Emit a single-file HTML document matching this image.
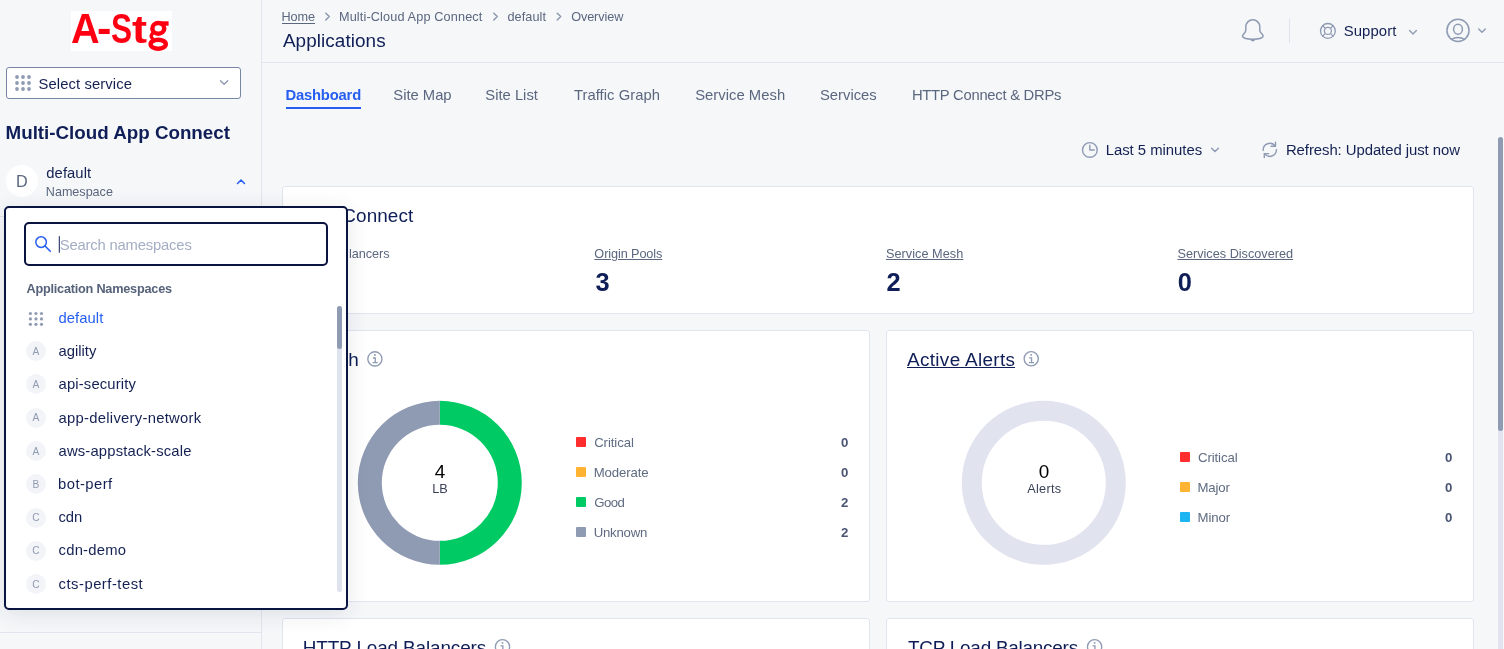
<!DOCTYPE html>
<html lang="en">
<head>
<meta charset="utf-8">
<title>Applications - Multi-Cloud App Connect</title>
<style>
*{box-sizing:border-box;margin:0;padding:0}
html,body{width:1504px;height:649px;overflow:hidden;background:#f5f7f9}
body{position:relative;font-family:"Liberation Sans",sans-serif;color:#0f1e57}
.a{position:absolute}
.t{position:absolute;white-space:pre;display:block}
.tl{position:absolute;left:0;top:0;width:1504px;height:649px;will-change:transform;pointer-events:none}
.card{position:absolute;background:#fff;border:1px solid #e1e5f0;border-radius:3px}
.ln{position:absolute;background:#e1e5f0}
.ul{position:absolute;height:1px}
.lg{font-size:41.7px;line-height:41.7px;font-weight:700;color:#ff0013;transform-origin:0 0}
.sq{position:absolute;width:10px;height:10px;border-radius:1px}
.av{position:absolute;left:26px;width:20px;height:20px;border-radius:50%;background:#f3f4f7;z-index:25}
svg{position:absolute;overflow:visible}
.ic{fill:none;stroke:#8f9bb3;stroke-width:1.4;stroke-linecap:round;stroke-linejoin:round}
</style>
</head>
<body>

<!-- ============ structural lines ============ -->
<div class="ln" style="left:261px;top:0;width:1px;height:649px"></div>
<div class="ln" style="left:262px;top:62px;width:1242px;height:1px"></div>
<div class="ln" style="left:0;top:632px;width:261px;height:1px"></div>
<div class="ln" style="left:0;top:216px;width:261px;height:1px"></div>

<!-- ============ sidebar ============ -->
<div class="a" id="logo" style="left:70.5px;top:11px;width:101.5px;height:40px;background:#fff"></div>

<svg style="left:140px;top:11px" width="32" height="40" viewBox="140 11 32 40">
  <!-- double-storey g of the logo -->
  <g fill="none" stroke="#ff0013">
    <ellipse cx="158.3" cy="28.4" rx="5.95" ry="5.3" stroke-width="4.5"/>
    <ellipse cx="158.2" cy="44.2" rx="7.6" ry="4.5" stroke-width="4.4"/>
    <path d="M153.3 32.6 C150.6 34.6 150.4 37.2 153.2 39.4" stroke-width="3.6"/>
  </g>
  <rect x="160.5" y="21.3" width="8.1" height="4.4" fill="#ff0013"/>
</svg>
<div class="a" style="left:6px;top:67px;width:235px;height:32px;background:#fff;border:1px solid #7886a6;border-radius:3px"></div>
<svg style="left:0;top:0" width="262" height="210" viewBox="0 0 262 210">
  <g fill="#8f9bb3">
    <circle cx="17" cy="77" r="1.9"/><circle cx="23" cy="77" r="1.9"/><circle cx="29" cy="77" r="1.9"/>
    <circle cx="17" cy="83" r="1.9"/><circle cx="23" cy="83" r="1.9"/><circle cx="29" cy="83" r="1.9"/>
    <circle cx="17" cy="89" r="1.9"/><circle cx="23" cy="89" r="1.9"/><circle cx="29" cy="89" r="1.9"/>
  </g>
  <path class="ic" d="M220.5 80.7 L224.1 84.3 L227.7 80.7"/>
  <circle cx="22" cy="181" r="16" fill="#fff"/>
  <path d="M237.5 183.5 L241 180 L244.5 183.5" fill="none" stroke="#265ef0" stroke-width="1.5" stroke-linecap="round" stroke-linejoin="round"/>
</svg>

<!-- ============ header ============ -->
<div class="ul" style="left:282px;top:23px;width:33px;background:#5b677f"></div>
<svg style="left:262px;top:0" width="1242" height="62" viewBox="262 0 1242 62">
  <g class="ic" style="stroke-width:1.35;stroke:#8793ab">
    <path d="M325.8 13.2 L329.3 16.6 L325.8 20"/>
    <path d="M493.8 13.2 L497.3 16.6 L493.8 20"/>
    <path d="M557.2 13.2 L560.7 16.6 L557.2 20"/>
  </g>
  <!-- bell -->
  <path class="ic" style="stroke-width:1.5" d="M1245.8 26.8 a7 7 0 0 1 14 0 v3.4 c0 2.7 3.3 4.2 3.3 5.8 c0 2.2 -5.3 3.3 -10.3 3.3 s-10.3 -1.1 -10.3 -3.3 c0 -1.6 3.3 -3.1 3.3 -5.8 z"/>
  <path d="M1249.9 39.2 q2.9 4.8 5.8 0 z" fill="#8f9bb3"/>
  <!-- divider -->
  <rect x="1289" y="18.5" width="1" height="24.5" fill="#dfe3ee"/>
  <!-- support lifebuoy -->
  <g class="ic" style="stroke-width:1.3">
    <circle cx="1327.9" cy="30.9" r="7.4"/>
    <circle cx="1327.9" cy="30.9" r="3.5"/>
    <path d="M1325.4 28.4 L1322.7 25.7 M1330.4 28.4 L1333.1 25.7 M1325.4 33.4 L1322.7 36.1 M1330.4 33.4 L1333.1 36.1"/>
  </g>
  <path class="ic" d="M1409.6 30.6 L1413 34 L1416.4 30.6"/>
  <!-- user -->
  <g class="ic" style="stroke-width:1.5">
    <circle cx="1458" cy="30.4" r="11.05"/>
    <ellipse cx="1458" cy="29.25" rx="4.4" ry="4.95"/>
    <path d="M1451.3 39.4 Q1458 35.4 1464.7 39.4"/>
  </g>
  <path class="ic" d="M1478.7 28.9 L1482 32.2 L1485.3 28.9"/>
</svg>

<!-- tab underline -->
<div class="a" style="left:286px;top:107px;width:75px;height:2px;background:#265ef0"></div>

<!-- time row icons -->
<svg style="left:1070px;top:134px" width="420" height="34" viewBox="1070 134 420 34">
  <g class="ic">
    <circle cx="1089.85" cy="149.95" r="7.35"/>
    <path d="M1089.8 145.3 V150 H1094.3"/>
    <path d="M1211.6 148.2 L1215 151.6 L1218.4 148.2"/>
    <path d="M1263.2 150.4 A6.6 6.6 0 0 1 1275.2 146.2"/>
    <path d="M1275.5 142.3 V146.3 H1271"/>
    <path d="M1276.4 149.6 A6.6 6.6 0 0 1 1264.5 153.7"/>
    <path d="M1264.3 157.6 V153.6 H1268.7"/>
  </g>
</svg>

<!-- ============ cards ============ -->
<div class="card" style="left:282px;top:186px;width:1192px;height:128px"></div>
<div class="card" style="left:282px;top:330px;width:588px;height:272px"></div>
<div class="card" style="left:886px;top:330px;width:588px;height:272px"></div>
<div class="card" style="left:282px;top:618px;width:588px;height:60px"></div>
<div class="card" style="left:886px;top:618px;width:588px;height:60px"></div>

<!-- link underlines -->
<div class="ul" style="left:907px;top:367px;width:108px;height:1.25px;background:#0f1e57"></div>

<!-- donuts + info icons -->
<svg style="left:282px;top:330px" width="1192" height="319" viewBox="282 330 1192 319">
  <!-- health donut: r mid 70, thickness 24 -->
  <path d="M439.8 400.8 A82 82 0 0 1 439.8 564.8 L439.8 540.8 A58 58 0 0 0 439.8 424.8 Z" fill="#00ca64"/>
  <path d="M439.8 400.8 A82 82 0 0 0 439.8 564.8 L439.8 540.8 A58 58 0 0 1 439.8 424.8 Z" fill="#8f9bb3"/>
  <!-- alerts donut -->
  <circle cx="1043.8" cy="482.8" r="72" fill="none" stroke="#e1e3ef" stroke-width="20"/>
  <!-- info icons -->
  <defs>
    <g id="info" class="ic" style="stroke-width:1.35">
      <circle cx="0" cy="0" r="7.1"/>
      <path d="M-2 -0.9 H0.35 V3.8 M-2.3 3.8 H2.8" style="stroke-linecap:butt;stroke-linejoin:miter"/>
      <circle cx="0" cy="-3.9" r="0.95" fill="#8f9bb3" stroke="none"/>
    </g>
  </defs>
  <use href="#info" x="374.9" y="358.9"/>
  <use href="#info" x="1031.2" y="358.8"/>
  <use href="#info" x="502.5" y="646.8"/>
  <use href="#info" x="1094.6" y="646.8"/>
</svg>

<!-- legends -->
<div class="sq" style="left:576px;top:437px;background:#ff2d2d"></div>
<div class="sq" style="left:576px;top:467px;background:#ffb333"></div>
<div class="sq" style="left:576px;top:497px;background:#00ca64"></div>
<div class="sq" style="left:576px;top:527px;background:#8f9bb3"></div>
<div class="sq" style="left:1180px;top:452px;background:#ff2d2d"></div>
<div class="sq" style="left:1180px;top:482px;background:#ffb333"></div>
<div class="sq" style="left:1180px;top:512px;background:#1cb5f2"></div>

<!-- ============ page scrollbar ============ -->
<div class="a" style="left:1498px;top:137px;width:5px;height:512px;background:#e1e4ef;border-radius:2.5px 2.5px 0 0"></div>
<div class="a" style="left:1498px;top:137px;width:5px;height:294px;background:#8f9bb3;border-radius:2.5px"></div>

<!-- ============ namespace dropdown ============ -->
<div class="a" id="dd" style="left:4px;top:206px;width:344px;height:404px;background:#fff;border:2px solid #0a1440;border-radius:5px;box-shadow:0 4px 22px rgba(40,48,60,.11);z-index:20"></div>
<div class="a" style="left:24px;top:222px;width:304px;height:44px;background:#fff;border:2px solid #0a1440;border-radius:5px;z-index:21"></div>
<svg style="left:0;top:206px;z-index:26" width="348" height="403" viewBox="0 206 348 403">
  <circle cx="41.1" cy="242.1" r="5.3" fill="none" stroke="#265ef0" stroke-width="1.5"/>
  <path d="M45 246 L50.3 251.3" stroke="#265ef0" stroke-width="1.6" stroke-linecap="round"/>
  <rect x="58.8" y="236.2" width="1" height="16.5" fill="#0f1e57"/>
  <g fill="#8f9bb3">
    <circle cx="30.4" cy="313.5" r="1.6"/><circle cx="35.95" cy="313.5" r="1.6"/><circle cx="41.5" cy="313.5" r="1.6"/>
    <circle cx="30.4" cy="318.9" r="1.6"/><circle cx="35.95" cy="318.9" r="1.6"/><circle cx="41.5" cy="318.9" r="1.6"/>
    <circle cx="30.4" cy="324.3" r="1.6"/><circle cx="35.95" cy="324.3" r="1.6"/><circle cx="41.5" cy="324.3" r="1.6"/>
  </g>
  <rect x="337" y="306" width="5" height="286" rx="2.5" fill="#dfe3ee"/>
  <rect x="337" y="306" width="5" height="43" rx="2.5" fill="#8f9bb3"/>
</svg>
<div class="av" style="top:341.09px"></div>
<div class="av" style="top:374.38px"></div>
<div class="av" style="top:407.67px"></div>
<div class="av" style="top:440.96px"></div>
<div class="av" style="top:474.25px"></div>
<div class="av" style="top:507.54px"></div>
<div class="av" style="top:540.83px"></div>
<div class="av" style="top:574.12px"></div>

<div class="tl" style="z-index:10">
<span class="t lg" style="left:70.68px;top:7.70px;transform-origin:0 35px;transform:scale(0.951,1)">A</span>
<span class="t lg" style="left:97.28px;top:7.70px;transform-origin:0 35px;transform:scale(1.040,1)">-</span>
<span class="t lg" style="left:111.38px;top:7.70px;transform-origin:0 35px;transform:scale(0.758,1)">S</span>
<span class="t lg" style="left:132.32px;top:7.70px;transform-origin:0 35px;transform:scale(1.084,0.93)">t</span>
<span class="t" style="left:281.54px;top:11.00px;font-size:12.7px;line-height:12.7px;color:#5b677f;letter-spacing:-0.122px">Home</span>
<span class="t" style="left:338.94px;top:11.00px;font-size:12.7px;line-height:12.7px;color:#5b677f;letter-spacing:0.141px">Multi-Cloud App Connect</span>
<span class="t" style="left:507.50px;top:11.00px;font-size:12.7px;line-height:12.7px;color:#5b677f;letter-spacing:0.066px">default</span>
<span class="t" style="left:571.17px;top:11.00px;font-size:12.7px;line-height:12.7px;color:#5b677f;letter-spacing:-0.101px">Overview</span>
<span class="t" style="left:282.88px;top:32.00px;font-size:18.9px;line-height:18.9px;color:#0f1e57;letter-spacing:0.080px">Applications</span>
<span class="t" style="left:1343.65px;top:24.00px;font-size:14.9px;line-height:14.9px;color:#142152;letter-spacing:0.111px">Support</span>
<span class="t" style="left:285.38px;top:87.90px;font-size:14.8px;line-height:14.8px;color:#265ef0;font-weight:700;letter-spacing:-0.184px">Dashboard</span>
<span class="t" style="left:393.35px;top:87.90px;font-size:14.8px;line-height:14.8px;color:#5b677f;letter-spacing:-0.020px">Site Map</span>
<span class="t" style="left:485.25px;top:87.90px;font-size:14.8px;line-height:14.8px;color:#5b677f;letter-spacing:0.006px">Site List</span>
<span class="t" style="left:573.92px;top:87.90px;font-size:14.8px;line-height:14.8px;color:#5b677f;letter-spacing:0.049px">Traffic Graph</span>
<span class="t" style="left:695.15px;top:87.90px;font-size:14.8px;line-height:14.8px;color:#5b677f;letter-spacing:0.035px">Service Mesh</span>
<span class="t" style="left:819.95px;top:87.90px;font-size:14.8px;line-height:14.8px;color:#5b677f;letter-spacing:0.006px">Services</span>
<span class="t" style="left:911.91px;top:87.90px;font-size:14.8px;line-height:14.8px;color:#5b677f;letter-spacing:-0.267px">HTTP Connect &amp; DRPs</span>
<span class="t" style="left:1105.71px;top:143.00px;font-size:14.9px;line-height:14.9px;color:#142152;letter-spacing:-0.036px">Last 5 minutes</span>
<span class="t" style="left:1285.91px;top:143.00px;font-size:14.9px;line-height:14.9px;color:#142152;letter-spacing:-0.062px">Refresh: Updated just now</span>
<span class="t" style="left:303.18px;top:207.00px;font-size:18.9px;line-height:18.9px;color:#0f1e57;letter-spacing:0.081px">App Connect</span>
<span class="t" style="left:302.34px;top:248.00px;font-size:12.7px;line-height:12.7px;color:#5b677f;letter-spacing:-1.018px">Load Ba</span>
<span class="t" style="left:349.07px;top:248.00px;font-size:12.7px;line-height:12.7px;color:#5b677f;letter-spacing:-0.081px">lancers</span>
<span class="t" style="left:303.66px;top:270.00px;font-size:25.4px;line-height:25.4px;color:#0f1e57;font-weight:700">4</span>
<span class="t" style="left:594.37px;top:248.00px;font-size:12.7px;line-height:12.7px;color:#5b677f;letter-spacing:-0.100px;text-decoration:underline;text-decoration-thickness:1px;text-underline-offset:1px">Origin Pools</span>
<span class="t" style="left:595.38px;top:270.00px;font-size:25.4px;line-height:25.4px;color:#0f1e57;font-weight:700">3</span>
<span class="t" style="left:885.97px;top:248.00px;font-size:12.7px;line-height:12.7px;color:#5b677f;letter-spacing:0.039px;text-decoration:underline;text-decoration-thickness:1px;text-underline-offset:1px">Service Mesh</span>
<span class="t" style="left:886.47px;top:270.00px;font-size:25.4px;line-height:25.4px;color:#0f1e57;font-weight:700">2</span>
<span class="t" style="left:1177.47px;top:248.00px;font-size:12.7px;line-height:12.7px;color:#5b677f;text-decoration:underline;text-decoration-thickness:1px;text-underline-offset:1px">Services Discovered</span>
<span class="t" style="left:1177.84px;top:270.00px;font-size:25.4px;line-height:25.4px;color:#0f1e57;font-weight:700">0</span>
<span class="t" style="left:301.92px;top:351.00px;font-size:18.9px;line-height:18.9px;color:#0f1e57;letter-spacing:0.438px">Health</span>
<span class="t" style="left:907.08px;top:351.00px;font-size:18.9px;line-height:18.9px;color:#0f1e57;letter-spacing:0.324px">Active Alerts</span>
<span class="t" style="left:434.76px;top:463.00px;font-size:18.9px;line-height:18.9px;color:#000">4</span>
<span class="t" style="left:432.24px;top:483.00px;font-size:12.7px;line-height:12.7px;color:#3a4258;letter-spacing:0.024px">LB</span>
<span class="t" style="left:1038.64px;top:463.00px;font-size:18.9px;line-height:18.9px;color:#000">0</span>
<span class="t" style="left:1027.17px;top:483.00px;font-size:12.7px;line-height:12.7px;color:#3a4258;letter-spacing:0.307px">Alerts</span>
<span class="t" style="left:594.19px;top:436.00px;font-size:13.2px;line-height:13.2px;color:#5f6b81;letter-spacing:-0.097px">Critical</span>
<span class="t" style="left:841.10px;top:436.00px;font-size:13.2px;line-height:13.2px;color:#4a5573;font-weight:700">0</span>
<span class="t" style="left:593.72px;top:466.00px;font-size:13.2px;line-height:13.2px;color:#5f6b81;letter-spacing:-0.134px">Moderate</span>
<span class="t" style="left:841.10px;top:466.00px;font-size:13.2px;line-height:13.2px;color:#4a5573;font-weight:700">0</span>
<span class="t" style="left:594.21px;top:496.00px;font-size:13.2px;line-height:13.2px;color:#5f6b81;letter-spacing:-0.549px">Good</span>
<span class="t" style="left:841.07px;top:496.00px;font-size:13.2px;line-height:13.2px;color:#4a5573;font-weight:700">2</span>
<span class="t" style="left:593.72px;top:526.00px;font-size:13.2px;line-height:13.2px;color:#5f6b81;letter-spacing:-0.226px">Unknown</span>
<span class="t" style="left:841.07px;top:526.00px;font-size:13.2px;line-height:13.2px;color:#4a5573;font-weight:700">2</span>
<span class="t" style="left:1197.99px;top:451.00px;font-size:13.2px;line-height:13.2px;color:#5f6b81;letter-spacing:-0.097px">Critical</span>
<span class="t" style="left:1444.90px;top:451.00px;font-size:13.2px;line-height:13.2px;color:#4a5573;font-weight:700">0</span>
<span class="t" style="left:1197.52px;top:481.00px;font-size:13.2px;line-height:13.2px;color:#5f6b81;letter-spacing:-0.180px">Major</span>
<span class="t" style="left:1444.90px;top:481.00px;font-size:13.2px;line-height:13.2px;color:#4a5573;font-weight:700">0</span>
<span class="t" style="left:1197.52px;top:511.00px;font-size:13.2px;line-height:13.2px;color:#5f6b81;letter-spacing:-0.105px">Minor</span>
<span class="t" style="left:1444.90px;top:511.00px;font-size:13.2px;line-height:13.2px;color:#4a5573;font-weight:700">0</span>
<span class="t" style="left:302.72px;top:639.00px;font-size:18.9px;line-height:18.9px;color:#0f1e57;letter-spacing:-0.111px">HTTP Load Balancers</span>
<span class="t" style="left:908.03px;top:639.00px;font-size:18.9px;line-height:18.9px;color:#0f1e57;letter-spacing:-0.227px">TCP Load Balancers</span>
<span class="t" style="left:38.55px;top:77.00px;font-size:14.8px;line-height:14.8px;color:#142152;letter-spacing:0.103px">Select service</span>
<span class="t" style="left:5.58px;top:124.00px;font-size:18.8px;line-height:18.8px;color:#0f1e57;font-weight:700;letter-spacing:-0.013px">Multi-Cloud App Connect</span>
<span class="t" style="left:15.88px;top:173.00px;font-size:16.2px;line-height:16.2px;color:#5b677f">D</span>
<span class="t" style="left:46.32px;top:166.00px;font-size:14.8px;line-height:14.8px;color:#142152;letter-spacing:0.065px">default</span>
<span class="t" style="left:45.84px;top:186.00px;font-size:12.6px;line-height:12.6px;color:#5b677f;letter-spacing:-0.018px">Namespace</span>
</div>
<div class="tl" style="z-index:30">
<span class="t" style="left:59.75px;top:238.00px;font-size:14.8px;line-height:14.8px;color:#a4adc4;letter-spacing:-0.179px">Search namespaces</span>
<span class="t" style="left:26.47px;top:283.00px;font-size:12.7px;line-height:12.7px;color:#56627a;font-weight:700;letter-spacing:-0.220px">Application Namespaces</span>
<span class="t" style="left:58.52px;top:311.00px;font-size:14.8px;line-height:14.8px;color:#265ef0;letter-spacing:0.065px">default</span>
<span class="t" style="left:58.52px;top:344.00px;font-size:14.8px;line-height:14.8px;color:#142152;letter-spacing:-0.007px">agility</span>
<span class="t" style="left:32.52px;top:346.69px;font-size:10.2px;line-height:10.2px;color:#8f9bb3">A</span>
<span class="t" style="left:58.52px;top:377.00px;font-size:14.8px;line-height:14.8px;color:#142152;letter-spacing:0.161px">api-security</span>
<span class="t" style="left:32.52px;top:379.98px;font-size:10.2px;line-height:10.2px;color:#8f9bb3">A</span>
<span class="t" style="left:58.52px;top:411.00px;font-size:14.8px;line-height:14.8px;color:#142152;letter-spacing:0.277px">app-delivery-network</span>
<span class="t" style="left:32.52px;top:413.27px;font-size:10.2px;line-height:10.2px;color:#8f9bb3">A</span>
<span class="t" style="left:58.52px;top:444.00px;font-size:14.8px;line-height:14.8px;color:#142152;letter-spacing:0.176px">aws-appstack-scale</span>
<span class="t" style="left:32.52px;top:446.56px;font-size:10.2px;line-height:10.2px;color:#8f9bb3">A</span>
<span class="t" style="left:58.07px;top:477.00px;font-size:14.8px;line-height:14.8px;color:#142152;letter-spacing:0.439px">bot-perf</span>
<span class="t" style="left:32.44px;top:479.85px;font-size:10.2px;line-height:10.2px;color:#8f9bb3">B</span>
<span class="t" style="left:58.54px;top:510.00px;font-size:14.8px;line-height:14.8px;color:#142152;letter-spacing:-0.057px">cdn</span>
<span class="t" style="left:32.36px;top:513.14px;font-size:10.2px;line-height:10.2px;color:#8f9bb3">C</span>
<span class="t" style="left:58.54px;top:543.00px;font-size:14.8px;line-height:14.8px;color:#142152;letter-spacing:0.235px">cdn-demo</span>
<span class="t" style="left:32.36px;top:546.43px;font-size:10.2px;line-height:10.2px;color:#8f9bb3">C</span>
<span class="t" style="left:58.54px;top:577.00px;font-size:14.8px;line-height:14.8px;color:#142152;letter-spacing:0.506px">cts-perf-test</span>
<span class="t" style="left:32.36px;top:579.72px;font-size:10.2px;line-height:10.2px;color:#8f9bb3">C</span>
</div>

</body>
</html>
